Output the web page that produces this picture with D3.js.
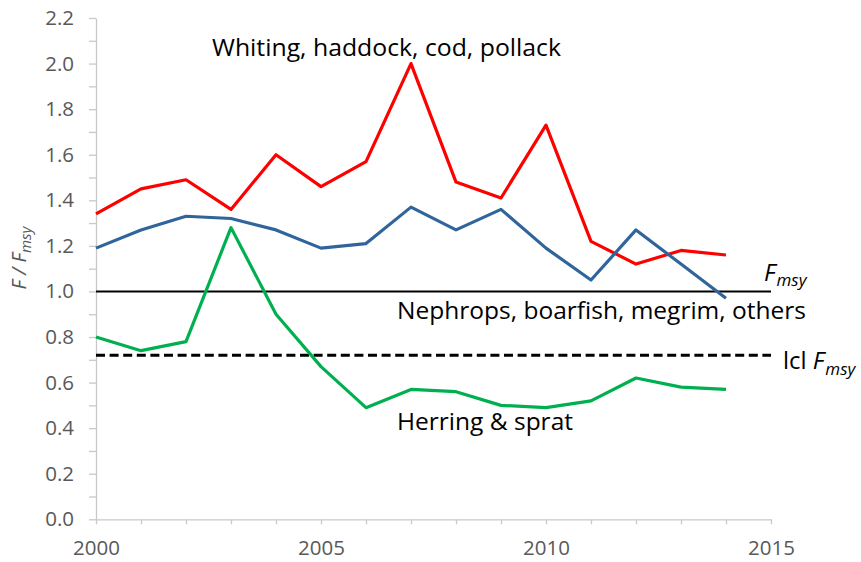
<!DOCTYPE html>
<html>
<head>
<meta charset="utf-8">
<script src="https://cdn.jsdelivr.net/npm/d3@7"></script>
<style>
  html, body { margin: 0; padding: 0; background: #ffffff; }
  svg { display: block; }
  text { font-family: "Open Sans", "Liberation Sans", sans-serif; }
</style>
</head>
<body>
<svg id="chart" width="861" height="562"></svg>
<script>
// ---- data ----
const years = [2000, 2001, 2002, 2003, 2004, 2005, 2006, 2007, 2008, 2009, 2010, 2011, 2012, 2013, 2014];
const whitingHaddockCodPollack = [1.34, 1.45, 1.49, 1.36, 1.60, 1.46, 1.57, 2.00, 1.48, 1.41, 1.73, 1.22, 1.12, 1.18, 1.16];
const nephropsBoarfishMegrimOthers = [1.19, 1.27, 1.33, 1.32, 1.27, 1.19, 1.21, 1.37, 1.27, 1.36, 1.19, 1.05, 1.27, 1.12, 0.97];
const herringSprat = [0.80, 0.74, 0.78, 1.28, 0.90, 0.67, 0.49, 0.57, 0.56, 0.50, 0.49, 0.52, 0.62, 0.58, 0.57];
const fmsyLevel = 1.0;
const lclFmsyLevel = 0.72;
const xTickYears = [2000, 2001, 2002, 2003, 2004, 2005, 2006, 2007, 2008, 2009, 2010, 2011, 2012, 2013, 2014, 2015];
const xTickLabels = [2000, 2005, 2010, 2015];
const yTickValues = [0, 0.1, 0.2, 0.3, 0.4, 0.5, 0.6, 0.7, 0.8, 0.9, 1.0, 1.1, 1.2, 1.3, 1.4, 1.5, 1.6, 1.7, 1.8, 1.9, 2.0, 2.1, 2.2];
const yTickLabels = [0, 0.2, 0.4, 0.6, 0.8, 1.0, 1.2, 1.4, 1.6, 1.8, 2.0, 2.2];

const seriesList = [
  { name: "Whiting, haddock, cod, pollack", values: whitingHaddockCodPollack, color: "#ff0000" },
  { name: "Nephrops, boarfish, megrim, others", values: nephropsBoarfishMegrimOthers, color: "#30659b" },
  { name: "Herring & sprat", values: herringSprat, color: "#00b050" }
];

// ---- layout ----
const svg = d3.select("#chart");
const x = d3.scaleLinear().domain([2000, 2015]).range([96, 771]);
const y = d3.scaleLinear().domain([0, 2.2]).range([519.3, 18]);
const axisColor = "#c9c9c9";
const labelColor = "#595959";

// y axis
const yAxis = d3.axisLeft(y)
  .tickValues(yTickValues)
  .tickSize(7)
  .tickSizeOuter(0)
  .tickPadding(15)
  .tickFormat(d => yTickLabels.some(v => Math.abs(v - d) < 1e-9) ? d3.format(".1f")(d) : "");
const gy = svg.append("g").attr("transform", `translate(${x(2000)},0)`).call(yAxis);
gy.select(".domain").attr("stroke", axisColor).attr("stroke-width", 1.3);
gy.selectAll(".tick line").attr("stroke", axisColor).attr("stroke-width", 1.3);
gy.selectAll(".tick text").attr("fill", labelColor).style("font-size", "20.5px")
  .style("font-family", "'Open Sans', sans-serif");

// x axis
const xAxis = d3.axisBottom(x)
  .tickValues(xTickYears)
  .tickSize(5)
  .tickSizeOuter(0)
  .tickPadding(16)
  .tickFormat(d => xTickLabels.includes(d) ? String(d) : "");
const gx = svg.append("g").attr("transform", `translate(0,${y(0)})`).call(xAxis);
gx.select(".domain").attr("stroke", axisColor).attr("stroke-width", 1.3);
gx.selectAll(".tick line").attr("stroke", axisColor).attr("stroke-width", 1.3);
gx.selectAll(".tick text").attr("fill", labelColor).style("font-size", "20.5px")
  .style("font-family", "'Open Sans', sans-serif");

// reference lines
svg.append("line")
  .attr("x1", x(2000)).attr("x2", x(2015))
  .attr("y1", y(fmsyLevel)).attr("y2", y(fmsyLevel))
  .attr("stroke", "#000").attr("stroke-width", 2);
svg.append("line")
  .attr("x1", x(2000)).attr("x2", x(2015))
  .attr("y1", y(lclFmsyLevel)).attr("y2", y(lclFmsyLevel))
  .attr("stroke", "#000").attr("stroke-width", 3.2)
  .attr("stroke-dasharray", "9,4.6");

// series lines
const line = d3.line().x((d, i) => x(years[i])).y(d => y(d));
seriesList.forEach(s => {
  svg.append("path")
    .datum(s.values)
    .attr("d", line)
    .attr("fill", "none")
    .attr("stroke", s.color)
    .attr("stroke-width", 3.2)
    .attr("stroke-linejoin", "round");
});

// annotations
function label(txt, xPos, yPos, len) {
  svg.append("text")
    .attr("x", xPos).attr("y", yPos)
    .attr("fill", "#000")
    .attr("textLength", len)
    .attr("lengthAdjust", "spacingAndGlyphs")
    .style("font-size", "23px")
    .text(txt);
}
label(seriesList[0].name, 212, 56, 349);
label(seriesList[1].name, 397, 318.5, 409);
label(seriesList[2].name, 397, 429.5, 176);

// Fmsy label
const fm = svg.append("text").attr("x", 764).attr("y", 280.5).attr("fill", "#000");
fm.append("tspan").style("font-style", "italic").style("font-size", "24px").text("F");
fm.append("tspan").attr("dx", 1).attr("dy", 5).style("font-style", "italic").style("font-size", "17px").text("msy");

// lcl Fmsy label
const lf = svg.append("text").attr("x", 783).attr("y", 368.5).attr("fill", "#000");
lf.append("tspan").style("font-size", "24px").text("lcl ");
lf.append("tspan").style("font-style", "italic").style("font-size", "24px").text("F");
lf.append("tspan").attr("dx", 1).attr("dy", 6).style("font-style", "italic").style("font-size", "17px").text("msy");

// y axis title
const yt = svg.append("text")
  .attr("transform", "translate(26,258) rotate(-90)")
  .attr("text-anchor", "middle")
  .attr("fill", labelColor)
  .style("font-style", "italic")
  .style("font-size", "20px");
yt.append("tspan").text("F / F");
yt.append("tspan").attr("dy", 5).style("font-size", "15px").text("msy");
</script>
</body>
</html>
